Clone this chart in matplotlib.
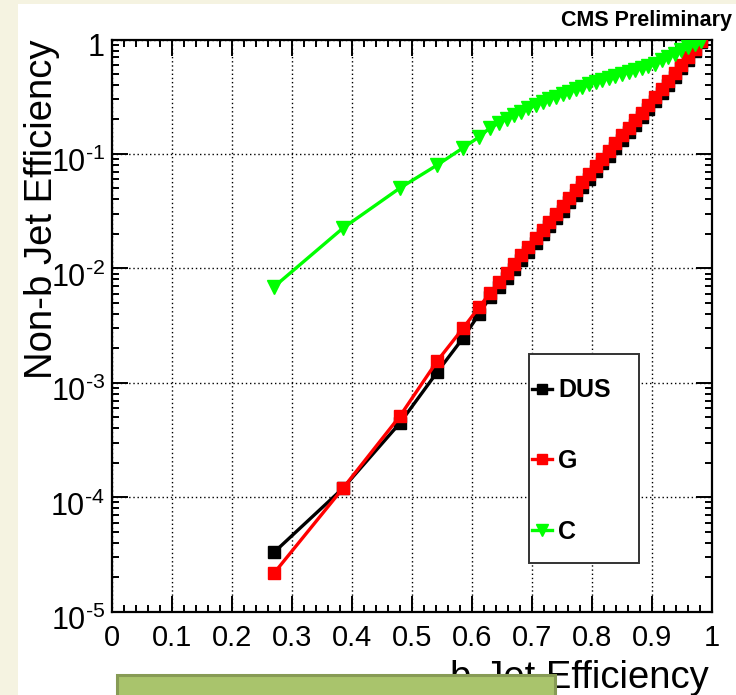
import math
import matplotlib
matplotlib.use("Agg")
import matplotlib.pyplot as plt
import matplotlib.transforms as mtransforms
from matplotlib.patches import Rectangle
from matplotlib.ticker import FixedLocator, FuncFormatter, LogLocator, MultipleLocator

plt.rcParams['font.family'] = ['Liberation Sans', 'DejaVu Sans']
plt.rcParams['mathtext.fontset'] = 'custom'
plt.rcParams['mathtext.rm'] = 'Liberation Sans'
plt.rcParams['mathtext.it'] = 'Liberation Sans:italic'
plt.rcParams['mathtext.bf'] = 'Liberation Sans:bold'

# ---- data ----
b_eff = [0.27, 0.385, 0.48, 0.542, 0.585, 0.612, 0.63, 0.645, 0.658, 0.670,
         0.682, 0.694, 0.706, 0.718, 0.729, 0.740, 0.751, 0.762, 0.773, 0.784,
         0.795, 0.806, 0.817, 0.828, 0.839, 0.850, 0.861, 0.872, 0.883, 0.894,
         0.905, 0.916, 0.927, 0.938, 0.949, 0.960, 0.971, 0.982]
dus = [3.3e-5, 1.2e-4, 4.46e-4, 1.24e-3, 2.46e-3, 4.0e-3, 5.6e-3, 6.9e-3, 8.3e-3, 9.9e-3,
       1.18e-2, 1.40e-2, 1.67e-2, 1.98e-2, 2.33e-2, 2.74e-2, 3.20e-2, 3.77e-2, 4.41e-2, 5.18e-2,
       6.08e-2, 7.12e-2, 8.30e-2, 0.0965, 0.113, 0.132, 0.154, 0.180, 0.210, 0.246,
       0.288, 0.339, 0.400, 0.473, 0.560, 0.665, 0.790, 0.96]
gluon = [2.17e-5, 1.2e-4, 5.13e-4, 1.55e-3, 3.0e-3, 4.6e-3, 6.1e-3, 7.6e-3, 9.1e-3, 1.09e-2,
         1.30e-2, 1.54e-2, 1.84e-2, 2.18e-2, 2.56e-2, 3.01e-2, 3.52e-2, 4.14e-2, 4.85e-2, 5.69e-2,
         6.68e-2, 7.82e-2, 9.12e-2, 0.106, 0.124, 0.145, 0.169, 0.197, 0.230, 0.269,
         0.315, 0.370, 0.435, 0.512, 0.601, 0.708, 0.832, 0.98]
charm = [6.9e-3, 0.0225, 0.0504, 0.080, 0.113, 0.141, 0.169, 0.186, 0.202, 0.219,
         0.234, 0.251, 0.268, 0.285, 0.300, 0.315, 0.332, 0.349, 0.367, 0.386,
         0.407, 0.429, 0.444, 0.461, 0.480, 0.499, 0.520, 0.541, 0.562, 0.586,
         0.610, 0.659, 0.703, 0.752, 0.803, 0.857, 0.916, 0.977]
x_ticks = [0, 0.1, 0.2, 0.3, 0.4, 0.5, 0.6, 0.7, 0.8, 0.9, 1]
y_ticks = [1e-5, 1e-4, 1e-3, 1e-2, 1e-1, 1]
labels = ['DUS', 'G', 'C']

W, H = 736, 695
fig = plt.figure(figsize=(W / 100, H / 100), dpi=100)
fig.patch.set_facecolor('#f5f3e1')
fig.patches.append(Rectangle((18 / W, 0), 1 - 18 / W, (H - 4) / H, transform=fig.transFigure,
                             facecolor='white', edgecolor='none', zorder=-10))

ax = fig.add_axes([112 / W, (H - 611.7) / H, 600 / W, (611.7 - 39.5) / H])
ax.set_xlim(0, 1)
ax.set_ylim(1e-5, 1)
ax.set_yscale('log')

lw = 2.4
ax.plot(b_eff, dus, color='black', lw=lw, marker='s', ms=8.7, label=labels[0], zorder=3)
ax.plot(b_eff, gluon, color='#ff0000', lw=lw, marker='s', ms=8.7, label=labels[1], zorder=4)
ax.plot(b_eff, charm, color='#00ff00', lw=lw, marker='v', ms=9.5, label=labels[2], zorder=5)

ax.xaxis.set_major_locator(FixedLocator(x_ticks))
ax.xaxis.set_minor_locator(MultipleLocator(0.02))
ax.xaxis.set_major_formatter(FuncFormatter(lambda v, p: '%g' % v))
ax.yaxis.set_major_locator(FixedLocator(y_ticks))
ax.yaxis.set_minor_locator(LogLocator(base=10, subs=range(2, 10)))

HYPH = '\u2010'


def yfmt(v, p):
    e = int(round(math.log10(v)))
    if e == 0:
        return '1'
    return '$\\mathregular{10^{' + HYPH + str(-e) + '}}$'


ax.yaxis.set_major_formatter(FuncFormatter(yfmt))

ax.tick_params(which='both', direction='in', top=True, right=True, width=1.4, colors='black')
ax.tick_params(which='major', length=11.5)
ax.tick_params(which='minor', length=5)
ax.tick_params(axis='x', which='major', labelsize=21, pad=9)
ax.tick_params(axis='y', which='major', labelsize=22, pad=5)
for s in ax.spines.values():
    s.set_linewidth(1.6)

ax.grid(True, which='major', color='black', linestyle=(0, (1, 2)), linewidth=1.0)

for lab in ax.get_yticklabels():
    lab.set_verticalalignment('top')
    lab.set_transform(lab.get_transform() + mtransforms.ScaledTranslation(0, 6 / 100, fig.dpi_scale_trans))

ax.set_xlabel('b-Jet Efficiency', fontsize=27.5)
ax.xaxis.set_label_coords(0.995, -(659.5 - 611.7) / 572.2)
ax.xaxis.label.set_horizontalalignment('right')
ax.set_ylabel('Non-b Jet Efficiency', fontsize=27.5)
ax.yaxis.set_label_coords((60 - 112) / 600, 1.0)
ax.yaxis.label.set_horizontalalignment('right')

# legend box
ax.add_patch(Rectangle(((529 - 112) / 600, 1 - (563 - 39.5) / 572.2), 110 / 600, 209 / 572.2,
                       transform=ax.transAxes, facecolor='white', edgecolor='#333333',
                       linewidth=1.4, zorder=6))
leg = ax.legend(loc='center left', bbox_to_anchor=((532 - 112) / 600, 1 - (461 - 39.5) / 572.2),
                frameon=False, prop={'weight': 'bold', 'size': 18}, handlelength=0.8,
                handletextpad=0.25, labelspacing=1.87, borderpad=0, borderaxespad=0,
                markerscale=0.85)
leg.set_zorder(7)

fig.text(732 / W, 1 - 26 / H, 'CMS Preliminary', fontsize=15.5, fontweight='bold',
         ha='right', va='baseline')

fig.patches.append(Rectangle((117 / W, -0.02), (555 - 117) / W, (695 - 673) / H + 0.02 - 1.5 / H,
                             transform=fig.transFigure, facecolor='#a9c46c', edgecolor='#879b55',
                             linewidth=2.2, zorder=10))

fig.savefig('out.png', dpi=100)
